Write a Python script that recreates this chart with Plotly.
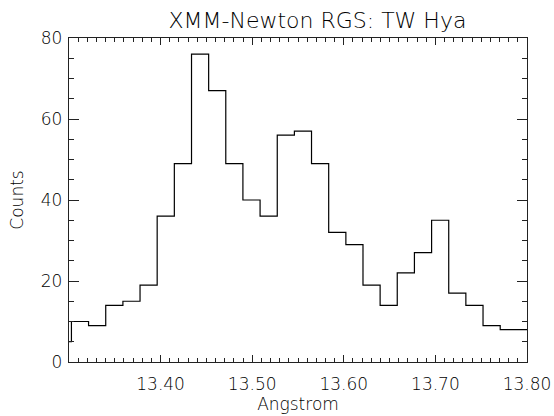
import plotly.graph_objects as go

# Bin centres (Angstrom) and counts
wavelength = [13.2933, 13.3120, 13.3307, 13.3495, 13.3682, 13.3869, 13.4056,
              13.4244, 13.4431, 13.4618, 13.4805, 13.4992, 13.5180, 13.5367,
              13.5554, 13.5741, 13.5929, 13.6116, 13.6303, 13.6490, 13.6677,
              13.6865, 13.7052, 13.7239, 13.7426, 13.7614, 13.7801, 13.7988,
              13.8175]
counts = [5, 10, 9, 14, 15, 19, 36, 49, 76, 67, 49, 40, 36, 56, 57, 49, 32,
          29, 19, 14, 22, 27, 35, 17, 14, 9, 8, 8, 8]

x_ticks = [13.40, 13.50, 13.60, 13.70, 13.80]
x_tick_labels = ["13.40", "13.50", "13.60", "13.70", "13.80"]
y_ticks = [0, 20, 40, 60, 80]

FONT = "DejaVu Sans"
TXT = "#000"

fig = go.Figure()
fig.add_trace(go.Scatter(
    x=wavelength, y=counts, mode="lines", line_shape="hvh",
    line=dict(color="black", width=1.2), showlegend=False,
))

axis_common = dict(
    showgrid=False, zeroline=False, showline=True, linecolor="#222",
    linewidth=1.3, mirror="ticks", ticks="inside", tickcolor="#222",
    automargin=False,
    tickfont=dict(family=FONT, size=17, color=TXT, weight=200),
)

fig.update_xaxes(
    range=[13.30, 13.80], tickvals=x_ticks, ticktext=x_tick_labels,
    ticklen=7, tickwidth=1, ticklabelstandoff=6,
    minor=dict(ticks="inside", dtick=0.01, tick0=13.30, ticklen=4,
               tickcolor="#222", tickwidth=1),
    title=dict(text="Angstrom", font=dict(family=FONT, size=17, color=TXT, weight=200),
               standoff=2),
    **axis_common,
)
fig.update_yaxes(
    range=[0, 80], tickvals=y_ticks, ticklen=10, tickwidth=1,
    ticklabelstandoff=2,
    minor=dict(ticks="inside", dtick=5, tick0=0, ticklen=5,
               tickcolor="#222", tickwidth=1),
    title=dict(text="Counts", font=dict(family=FONT, size=17, color=TXT, weight=200),
               standoff=12),
    **axis_common,
)

fig.update_layout(
    width=554, height=416,
    margin=dict(l=69, r=27, t=38, b=54),
    paper_bgcolor="white", plot_bgcolor="white",
    title=dict(text="XMM-Newton RGS: TW Hya", xref="container", x=0.573,
               xanchor="center", yref="container", y=0.952, yanchor="middle",
               font=dict(family=FONT, size=22, color=TXT, weight=200)),
)

fig.write_html("out.html")
